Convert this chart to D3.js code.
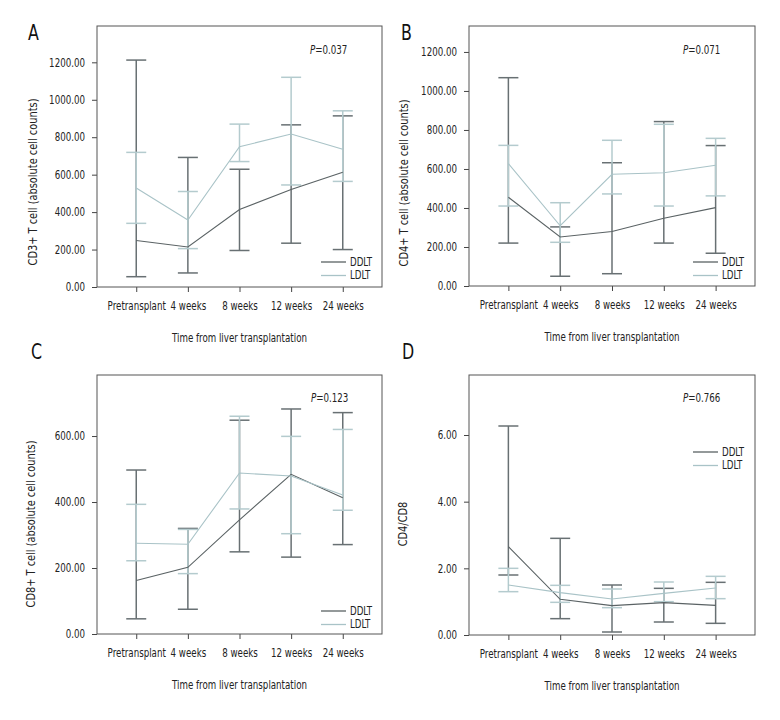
<!DOCTYPE html>
<html><head><meta charset="utf-8">
<script src="https://cdn.jsdelivr.net/npm/d3@7"></script>
<style>
html,body{margin:0;padding:0;background:#fff;}
text{font-family:"DejaVu Sans Condensed","Liberation Sans Narrow","Roboto",sans-serif;}
</style></head>
<body>
<svg id="chart" width="780" height="720"></svg>
<script>
// ---------- DATA ----------
const categories = ["Pretransplant", "4 weeks", "8 weeks", "12 weeks", "24 weeks"];
const seriesNames = ["DDLT", "LDLT"];

// Panel A: CD3+ T cell
const aDdltMean = [248, 214, 414, 521, 613];
const aDdltLow  = [55, 75, 195, 234, 200];
const aDdltHigh = [1212, 692, 629, 866, 914];
const aLdltMean = [529, 358, 749, 817, 736];
const aLdltLow  = [340, 205, 670, 545, 564];
const aLdltHigh = [719, 510, 870, 1120, 941];
const aTicks = [0, 200, 400, 600, 800, 1000, 1200];

// Panel B: CD4+ T cell
const bDdltMean = [455, 251, 279, 347, 402];
const bDdltLow  = [220, 50, 63, 220, 168];
const bDdltHigh = [1068, 303, 632, 843, 720];
const bLdltMean = [627, 309, 573, 581, 619];
const bLdltLow  = [410, 224, 472, 410, 462];
const bLdltHigh = [721, 427, 747, 829, 757];
const bTicks = [0, 200, 400, 600, 800, 1000, 1200];

// Panel C: CD8+ T cell
const cDdltMean = [162, 202, 346, 484, 413];
const cDdltLow  = [46, 75, 249, 233, 271];
const cDdltHigh = [497, 320, 648, 682, 671];
const cLdltMean = [275, 272, 488, 479, 421];
const cLdltLow  = [222, 183, 379, 304, 375];
const cLdltHigh = [393, 317, 660, 599, 620];
const cTicks = [0, 200, 400, 600];

// Panel D: CD4/CD8
const dDdltMean = [2.65, 1.07, 0.88, 0.97, 0.89];
const dDdltLow  = [1.80, 0.49, 0.09, 0.39, 0.35];
const dDdltHigh = [6.27, 2.90, 1.50, 1.40, 1.58];
const dLdltMean = [1.50, 1.27, 1.08, 1.25, 1.41];
const dLdltLow  = [1.30, 0.98, 0.82, 1.00, 1.09];
const dLdltHigh = [2.00, 1.49, 1.38, 1.59, 1.76];
const dTicks = [0, 2, 4, 6];

const letters = ["A", "B", "C", "D"];
const yTitles = ["CD3+ T cell (absolute cell counts)", "CD4+ T cell (absolute cell counts)",
                 "CD8+ T cell (absolute cell counts)", "CD4/CD8"];
const pValues = ["0.037", "0.071", "0.123", "0.766"];
const yMaxes = [1394, 1333, 785, 7.8];
const xTitle = "Time from liver transplantation";

// ---------- LAYOUT ----------
const layout = [
  {x0: 97, x1: 382, y0: 26, y1: 287, lx: 28, ly: 40, ytx: 33, yty: 182, px: 310, py: 54, legX: 321, legY: 262},
  {x0: 469, x1: 755, y0: 26, y1: 286, lx: 401, ly: 40, ytx: 404, yty: 183, px: 683, py: 54, legX: 693, legY: 262},
  {x0: 97, x1: 382, y0: 375, y1: 634, lx: 31, ly: 359, ytx: 31, yty: 524, px: 311, py: 402, legX: 321, legY: 611},
  {x0: 469, x1: 755, y0: 375, y1: 635, lx: 402, ly: 359, ytx: 403, yty: 524, px: 683, py: 402, legX: 693, legY: 452}
];
const colors = {DDLT: "#5a6264", LDLT: "#a9c3c7"};
const barColors = {DDLT: "#687073", LDLT: "#b4cbce"};
const SX = 0.84;   // horizontal condensing of text
const FS = 11.5;

const panelData = [
  {ticks: aTicks, s: [{n: "DDLT", m: aDdltMean, lo: aDdltLow, hi: aDdltHigh}, {n: "LDLT", m: aLdltMean, lo: aLdltLow, hi: aLdltHigh}]},
  {ticks: bTicks, s: [{n: "DDLT", m: bDdltMean, lo: bDdltLow, hi: bDdltHigh}, {n: "LDLT", m: bLdltMean, lo: bLdltLow, hi: bLdltHigh}]},
  {ticks: cTicks, s: [{n: "DDLT", m: cDdltMean, lo: cDdltLow, hi: cDdltHigh}, {n: "LDLT", m: cLdltMean, lo: cLdltLow, hi: cLdltHigh}]},
  {ticks: dTicks, s: [{n: "DDLT", m: dDdltMean, lo: dDdltLow, hi: dDdltHigh}, {n: "LDLT", m: dLdltMean, lo: dLdltLow, hi: dLdltHigh}]}
];

const svg = d3.select("#chart");
const fmt = d3.format(".2f");

function squeeze(sel, sx) {
  sel.each(function () {
    const t = d3.select(this);
    const x = +t.attr("x") || 0;
    t.attr("x", x / sx).attr("transform", `scale(${sx},1)`);
  });
}
function addText(g, x, y, str, opts = {}) {
  const t = g.append("text").attr("x", x / SX).attr("y", y)
    .attr("transform", `scale(${SX},1)`)
    .attr("font-size", opts.fs || FS).attr("fill", "#222")
    .attr("text-anchor", opts.anchor || "start");
  if (str !== null) t.text(str);
  return t;
}

panelData.forEach((pd, i) => {
  const L = layout[i];
  const g = svg.append("g");
  const x = d3.scalePoint().domain(categories).range([L.x0, L.x1]).padding(0.76);
  const y = d3.scaleLinear().domain([0, yMaxes[i]]).range([L.y1, L.y0]);

  // y axis
  const ya = g.append("g").attr("transform", `translate(${L.x0},0)`)
    .call(d3.axisLeft(y).tickValues(pd.ticks).tickFormat(fmt).tickSize(5).tickPadding(7));
  ya.select(".domain").remove();
  ya.selectAll("line").attr("stroke", "#444");
  ya.selectAll("text").attr("font-size", FS).attr("fill", "#222").call(squeeze, SX);

  // x axis
  const xa = g.append("g").attr("transform", `translate(0,${L.y1})`)
    .call(d3.axisBottom(x).tickSize(5).tickPadding(10));
  xa.select(".domain").remove();
  xa.selectAll("line").attr("stroke", "#444");
  xa.selectAll("text").attr("font-size", FS).attr("fill", "#222").call(squeeze, SX);

  // frame
  g.append("rect").attr("x", L.x0).attr("y", L.y0)
    .attr("width", L.x1 - L.x0).attr("height", L.y1 - L.y0)
    .attr("fill", "none").attr("stroke", "#555").attr("stroke-width", 1);

  // error bars
  pd.s.forEach(s => {
    const eg = g.append("g");
    categories.forEach((c, k) => {
      const cx = x(c);
      eg.append("line").attr("x1", cx).attr("x2", cx).attr("y1", y(s.lo[k])).attr("y2", y(s.hi[k]))
        .attr("stroke", barColors[s.n]).attr("stroke-width", 1.5);
      [s.lo[k], s.hi[k]].forEach(v => {
        eg.append("line").attr("x1", cx - 10).attr("x2", cx + 10).attr("y1", y(v)).attr("y2", y(v))
          .attr("stroke", barColors[s.n]).attr("stroke-width", 1.5);
      });
    });
  });
  // mean lines
  pd.s.forEach(s => {
    const line = d3.line().x((d, k) => x(categories[k])).y(d => y(d));
    g.append("path").datum(s.m).attr("d", line).attr("fill", "none")
      .attr("stroke", colors[s.n]).attr("stroke-width", 1.1);
  });

  // legend
  seriesNames.forEach((n, k) => {
    const ly = L.legY + k * 13.5;
    g.append("line").attr("x1", L.legX).attr("x2", L.legX + 25).attr("y1", ly).attr("y2", ly)
      .attr("stroke", colors[n]).attr("stroke-width", 1.3);
    addText(g, L.legX + 29, ly + 4, n);
  });

  // p-value
  const pt = addText(g, L.px, L.py, null);
  pt.append("tspan").attr("font-style", "italic").text("P");
  pt.append("tspan").text("=" + pValues[i]);

  // titles
  addText(g, (L.x0 + L.x1) / 2, L.y1 + 55, xTitle, {anchor: "middle"});
  g.append("text").attr("transform", `translate(${L.ytx},${L.yty}) rotate(-90) scale(0.95,1)`)
    .attr("text-anchor", "middle").attr("dy", "0.35em")
    .attr("font-size", FS).attr("fill", "#222").text(yTitles[i]);

  // panel letter
  addText(g, L.lx, L.ly, letters[i], {fs: 21}).attr("fill", "#111");
});
</script>
</body></html>
